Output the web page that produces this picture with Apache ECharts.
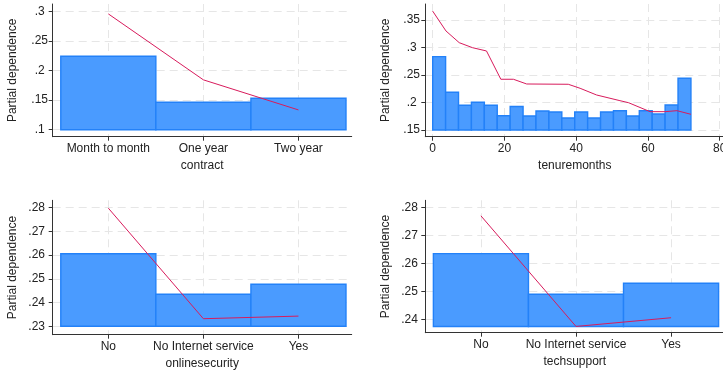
<!DOCTYPE html>
<html>
<head>
<meta charset="utf-8">
<script src="https://cdn.jsdelivr.net/npm/echarts@6/dist/echarts.min.js"></script>
<style>
  html, body { margin: 0; padding: 0; background: #fff; }
  #chart { width: 723px; height: 372px; }
</style>
</head>
<body>
<div id="chart"></div>
<script>
// Partial dependence plots with the feature distribution drawn behind each curve.

// contract
const contractCats = ['Month to month', 'One year', 'Two year'];
const contractHist = [0.224, 0.1464, 0.1532];
const contractPD = [0.2956, 0.1842, 0.1334];
const contractBase = 0.1;
const contractTicks = [0.1, 0.15, 0.2, 0.25, 0.3];

// tenuremonths (20 bins of 3.6 months starting at 0)
const tenureBinStart = 0;
const tenureBinWidth = 3.6;
const tenureHist = [0.2833, 0.2185, 0.1949, 0.2003, 0.1949, 0.1760, 0.1928, 0.1755, 0.1845, 0.1827,
                    0.1718, 0.1827, 0.1718, 0.1827, 0.1851, 0.1755, 0.1851, 0.1791, 0.1955, 0.2440];
const tenurePDx = [0, 3.7, 7.4, 11.1, 15.0, 19.0, 22.5, 26.2, 37.8, 41.1, 45.7, 52.2, 54.6, 60.6, 64.8, 68.1, 72];
const tenurePDy = [0.366, 0.330, 0.3087, 0.2996, 0.2936, 0.2422, 0.2422, 0.2336, 0.2331, 0.2258, 0.2136,
                   0.2033, 0.1996, 0.1833, 0.1833, 0.1851, 0.1785];
const tenureBase = 0.15;
const tenureYTicks = [0.15, 0.2, 0.25, 0.3, 0.35];
const tenureXTicks = [0, 20, 40, 60, 80];

// onlinesecurity
const onlineCats = ['No', 'No Internet service', 'Yes'];
const onlineHist = [0.2606, 0.2435, 0.2477];
const onlinePD = [0.2798, 0.2332, 0.2343];
const onlineBase = 0.23;
const onlineTicks = [0.23, 0.24, 0.25, 0.26, 0.27, 0.28];

// techsupport
const techCats = ['No', 'No Internet service', 'Yes'];
const techHist = [0.2636, 0.2491, 0.253];
const techPD = [0.2771, 0.2376, 0.2407];
const techBase = 0.2376;
const techTicks = [0.24, 0.25, 0.26, 0.27, 0.28];

const TEXT = '#222';
const FONT = 'Liberation Sans, Arial, sans-serif';
const BAR_FILL = '#4a9bff';
const BAR_EDGE = '#2381f8';
const LINE_COLOR = '#d81b5c';
const GRID_COLOR = '#e6e6e6';

const chart = echarts.init(document.getElementById('chart'), null, { renderer: 'canvas' });

function stripZero(v) {
  return String(+v.toFixed(4)).replace(/^0\./, '.');
}

function renderBar(params, api) {
  const p0 = api.coord([api.value(0), api.value(2)]);
  const p1 = api.coord([api.value(1), api.value(3)]);
  return {
    type: 'rect',
    shape: { x: p0[0], y: p0[1], width: p1[0] - p0[0], height: p1[1] - p0[1] },
    style: { fill: BAR_FILL, stroke: BAR_EDGE, lineWidth: 1.4 }
  };
}

const grids = [
  { left: 52.7, top: 4, width: 299, height: 132.7, outerBoundsMode: 'none' },
  { left: 425.3, top: 4, width: 299, height: 132.7, outerBoundsMode: 'none' },
  { left: 52.7, top: 200.3, width: 299, height: 134.4, outerBoundsMode: 'none' },
  { left: 425.3, top: 200.3, width: 299, height: 132.4, outerBoundsMode: 'none' }
];

function xAxisCfg(gridIndex, name, min, max, ticks, formatter) {
  return {
    type: 'value', gridIndex, min, max,
    name, nameLocation: 'middle', nameGap: 23,
    nameTextStyle: { color: TEXT, fontSize: 12, fontFamily: FONT },
    axisLine: { show: true, onZero: false, lineStyle: { color: '#333', width: 1 } },
    axisTick: { show: true, length: 4, customValues: ticks, lineStyle: { color: '#333' } },
    axisLabel: { customValues: ticks, margin: 6, color: TEXT, fontSize: 12, fontFamily: FONT, formatter },
    splitLine: { show: true, lineStyle: { color: GRID_COLOR, type: [8, 5], width: 1 } }
  };
}

function yAxisCfg(gridIndex, min, max, ticks, labelMargin) {
  return {
    type: 'value', gridIndex, min, max,
    name: 'Partial dependence', nameLocation: 'middle', nameGap: 34, nameRotate: 90,
    nameTextStyle: { color: TEXT, fontSize: 12, fontFamily: FONT },
    axisLine: { show: true, onZero: false, lineStyle: { color: '#333', width: 1 } },
    axisTick: { show: true, length: 4, customValues: ticks, lineStyle: { color: '#333' } },
    axisLabel: { customValues: ticks, margin: labelMargin, align: 'center', color: TEXT, fontSize: 12,
                 fontFamily: FONT, formatter: stripZero },
    splitLine: { show: true, lineStyle: { color: GRID_COLOR, type: [8, 5], width: 1 } }
  };
}

function catFormatter(cats) {
  return v => cats[Math.round(v) - 1] || '';
}

function catBars(hist, base) {
  return hist.map((v, i) => [i + 0.5, i + 1.5, v, base]);
}

function catLine(pd) {
  return pd.map((v, i) => [i + 1, v]);
}

const tenureBars = tenureHist.map((v, i) => [
  tenureBinStart + i * tenureBinWidth,
  tenureBinStart + (i + 1) * tenureBinWidth,
  v, tenureBase
]);
const tenureLine = tenurePDx.map((x, i) => [x, tenurePDy[i]]);

function barSeries(idx, data) {
  return {
    type: 'custom', xAxisIndex: idx, yAxisIndex: idx, renderItem: renderBar,
    encode: { x: [0, 1], y: [2, 3] }, data, z: 2, silent: true, clip: true
  };
}

function lineSeries(idx, data) {
  return {
    type: 'line', xAxisIndex: idx, yAxisIndex: idx, data, showSymbol: false, z: 3,
    lineStyle: { color: LINE_COLOR, width: 1 }, silent: true, animation: false
  };
}

const option = {
  backgroundColor: '#fff',
  animation: false,
  grid: grids,
  xAxis: [
    xAxisCfg(0, 'contract', 0.415, 3.56, [1, 2, 3], catFormatter(contractCats)),
    xAxisCfg(1, 'tenuremonths', -2.06, 81.3, tenureXTicks, v => String(v)),
    xAxisCfg(2, 'onlinesecurity', 0.415, 3.56, [1, 2, 3], catFormatter(onlineCats)),
    xAxisCfg(3, 'techsupport', 0.415, 3.56, [1, 2, 3], catFormatter(techCats))
  ],
  yAxis: [
    yAxisCfg(0, 0.0882, 0.3123, contractTicks, 13),
    yAxisCfg(1, 0.1378, 0.379, tenureYTicks, 13.6),
    yAxisCfg(2, 0.22646, 0.2831, onlineTicks, 16),
    yAxisCfg(3, 0.23536, 0.28264, techTicks, 15.8)
  ],
  series: [
    barSeries(0, catBars(contractHist, contractBase)),
    lineSeries(0, catLine(contractPD)),
    barSeries(1, tenureBars),
    lineSeries(1, tenureLine),
    barSeries(2, catBars(onlineHist, onlineBase)),
    lineSeries(2, catLine(onlinePD)),
    barSeries(3, catBars(techHist, techBase)),
    lineSeries(3, catLine(techPD))
  ]
};

chart.setOption(option);
</script>
</body>
</html>
